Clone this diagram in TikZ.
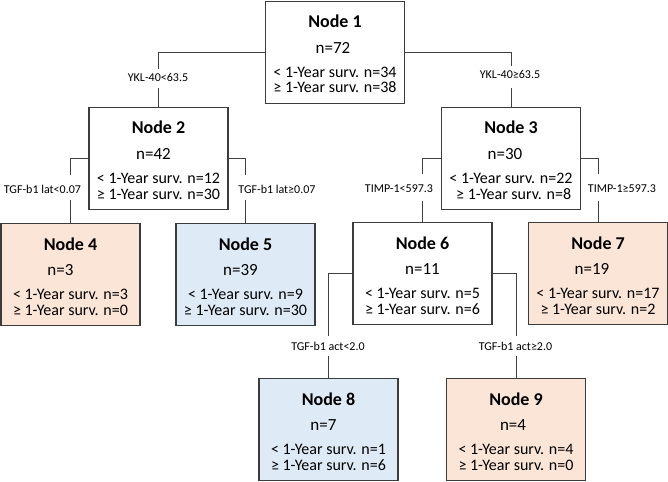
\documentclass[tikz,border=0pt]{standalone}
\usepackage{fontspec}
\setmainfont{Carlito}
\definecolor{boxc}{HTML}{3C3C3C}
\definecolor{linec}{HTML}{404040}
\definecolor{orfill}{HTML}{FBE5D6}
\definecolor{blfill}{HTML}{DEEBF7}
\tikzset{
  box/.style={draw=boxc, line width=1.2pt, minimum width=139pt, minimum height=102pt, inner sep=0pt, anchor=north},
  ttl/.style={font=\fontsize{18}{18}\selectfont\bfseries, anchor=base, inner sep=0pt},
  cnt/.style={font=\fontsize{17}{17}\selectfont, anchor=base, inner sep=0pt},
  srv/.style={font=\fontsize{16}{16}\selectfont, anchor=base, inner sep=0pt},
  lbl/.style={font=\fontsize{12}{12}\selectfont, inner sep=0pt},
  conn/.style={draw=linec, line width=1pt}
}
% #1 name, #2 centre x, #3 top y, #4 fill, #5 title, #6 shift of n line, #7 n line, #8 line 3, #9 line 4
\newcommand\tbox[9]{%
  \node[box, fill=#4] (#1) at (#2,#3) {};
  \node[ttl] (#1t) at ({#2},{#3+27}) {#5};
  \node[cnt] (#1n) at ({#2+(#6)},{#3+52.5}) {#7};
  \node[srv] (#1a) at ({#2},{#3+76.5}) {#8};
  \node[srv] (#1b) at ({#2},{#3+92}) {#9};
}
\begin{document}
\begin{tikzpicture}[x=1pt, y=-1pt]
\useasboundingbox (0,0) rectangle (668,481);
\tbox{n1}{335}{0.6}{white}{Node 1}{-2}{n=72}{< 1-Year surv. n=34}{≥ 1-Year surv. n=38}
\tbox{n2}{158.5}{107}{white}{Node 2}{-5}{n=42}{< 1-Year surv. n=12}{≥ 1-Year surv. n=30}
\tbox{n3}{511}{107}{white}{Node 3}{-6}{n=30}{< 1-Year surv. n=22}{\,\,≥ 1-Year surv. n=8}
\tbox{n4}{70.5}{223}{orfill}{Node 4}{-10}{n=3}{< 1-Year surv. n=3}{≥ 1-Year surv. n=0}
\tbox{n5}{245.5}{223}{blfill}{Node 5}{-5}{n=39}{< 1-Year surv. n=9}{≥ 1-Year surv. n=30}
\tbox{n6}{422.5}{222}{white}{Node 6}{0}{n=11}{< 1-Year surv. n=5}{≥ 1-Year surv. n=6}
\tbox{n7}{598}{222}{orfill}{Node 7}{-6}{n=19}{< 1-Year surv. n=17}{≥ 1-Year surv. n=2}
\tbox{n8}{328.5}{378}{blfill}{Node 8}{-5}{n=7}{< 1-Year surv. n=1}{≥ 1-Year surv. n=6}
\tbox{n9}{516}{378}{orfill}{Node 9}{-3}{n=4}{< 1-Year surv. n=4}{≥ 1-Year surv. n=0}
% split labels
\node[lbl] (l2) at (158,77) {YKL-40<63.5};
\node[lbl] (l3) at (510,74) {YKL-40≥63.5};
\node[lbl] (l4) at (42.5,189) {TGF-b1 lat<0.07};
\node[lbl] (l5) at (277,189) {TGF-b1 lat≥0.07};
\node[lbl] (l6) at (399,189) {TIMP-1<597.3};
\node[lbl] (l7) at (622,189) {TIMP-1≥597.3};
\node[lbl] (l8) at (328,346) {TGF-b1 act<2.0};
\node[lbl] (l9) at (515.5,346) {TGF-b1 act≥2.0};
% gaps in the vertical connectors, around the labels
\coordinate (g2a) at (n2.north |- 0,69);  \coordinate (g2b) at (n2.north |- 0,88);
\coordinate (g3a) at (n3.north |- 0,66);  \coordinate (g3b) at (n3.north |- 0,88);
\coordinate (g4a) at (n4.north |- 0,175); \coordinate (g4b) at (n4.north |- 0,200);
\coordinate (g5a) at (n5.north |- 0,175); \coordinate (g5b) at (n5.north |- 0,200);
\coordinate (g6a) at (n6.north |- 0,174); \coordinate (g6b) at (n6.north |- 0,201);
\coordinate (g7a) at (n7.north |- 0,174); \coordinate (g7b) at (n7.north |- 0,201);
\coordinate (g8a) at (n8.north |- 0,336); \coordinate (g8b) at (n8.north |- 0,356);
\coordinate (g9a) at (n9.north |- 0,336); \coordinate (g9b) at (n9.north |- 0,356);
% connectors
\draw[conn] (n1.west) -| (g2a);  \draw[conn] (g2b) -- (n2.north);
\draw[conn] (n1.east) -| (g3a);  \draw[conn] (g3b) -- (n3.north);
\draw[conn] (n2.west) -| (g4a);  \draw[conn] (g4b) -- (n4.north);
\draw[conn] (n2.east) -| (g5a);  \draw[conn] (g5b) -- (n5.north);
\draw[conn] (n3.west) -| (g6a);  \draw[conn] (g6b) -- (n6.north);
\draw[conn] (n3.east) -| (g7a);  \draw[conn] (g7b) -- (n7.north);
\draw[conn] (n6.west) -| (g8a);  \draw[conn] (g8b) -- (n8.north);
\draw[conn] (n6.east) -| (g9a);  \draw[conn] (g9b) -- (n9.north);
\end{tikzpicture}
\end{document}
